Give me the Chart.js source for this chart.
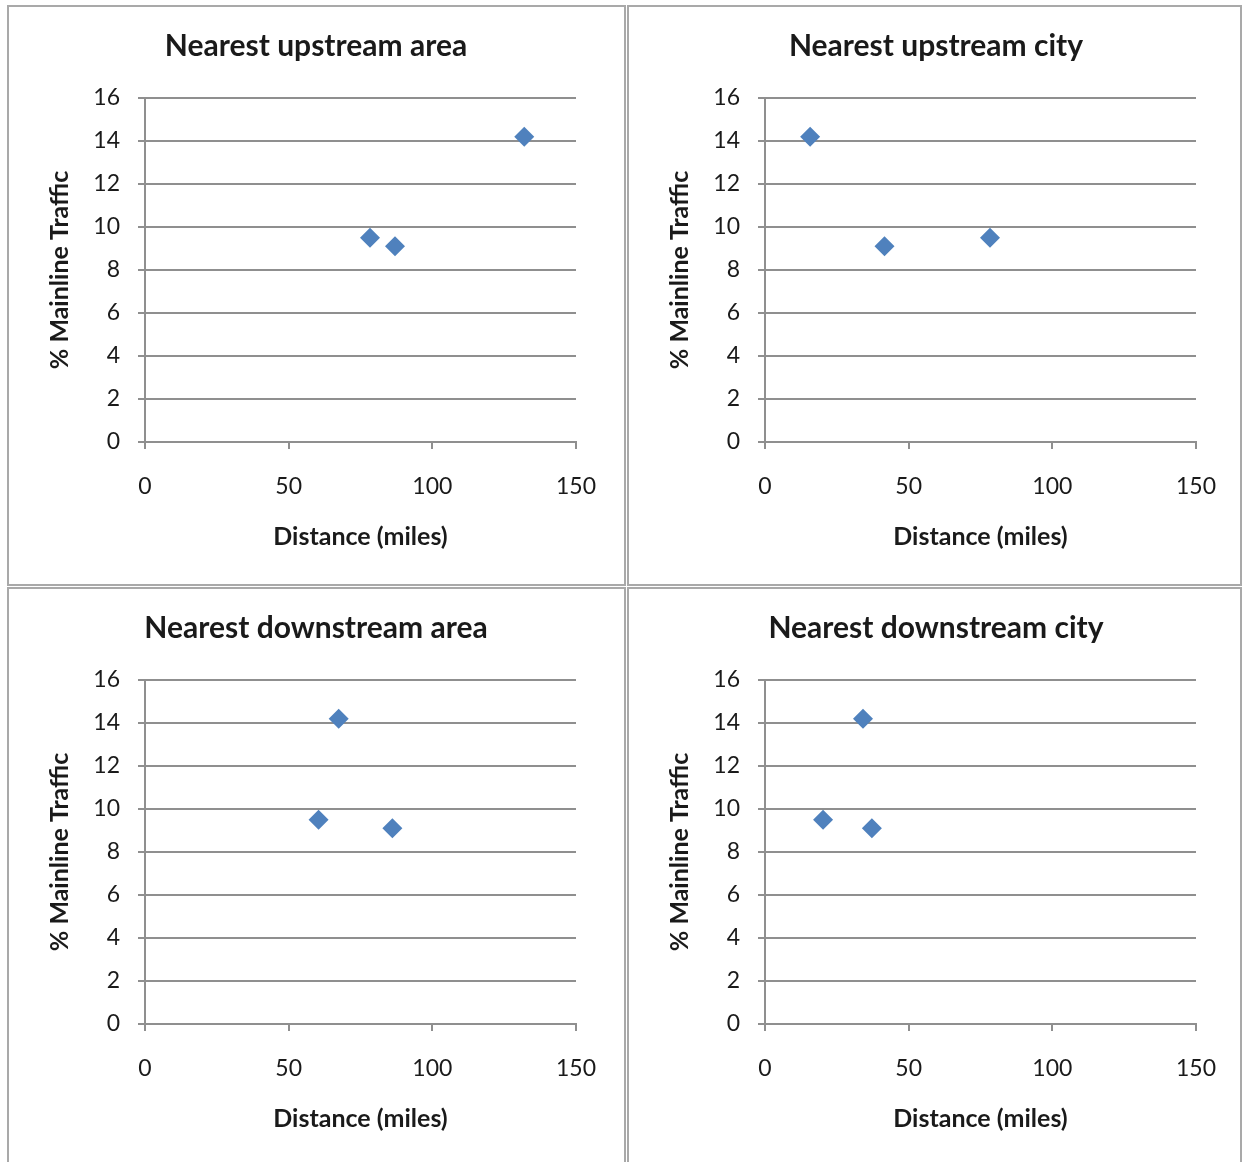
<!DOCTYPE html>
<html>
<head>
<meta charset="utf-8">
<script src="https://cdn.jsdelivr.net/npm/chart.js@4.4.1/dist/chart.umd.min.js"></script>
<style>
  body { margin: 0; background: #fff; width: 1243px; height: 1162px; overflow: hidden; position: relative; }
  .panel { position: absolute; box-sizing: border-box; border: 2px solid #a9a9a9; background: #fff; }
  .panel canvas { position: absolute; left: 0; top: 0; }
</style>
</head>
<body>
<div class="panel" style="left:7px; top:5px; width:619px; height:581px;"><canvas id="c1"></canvas></div>
<div class="panel" style="left:627px; top:5px; width:615px; height:581px;"><canvas id="c2"></canvas></div>
<div class="panel" style="left:7px; top:587px; width:619px; height:590px;"><canvas id="c3"></canvas></div>
<div class="panel" style="left:627px; top:587px; width:615px; height:590px;"><canvas id="c4"></canvas></div>
<script>
// chart titles
const panelTitles = ['Nearest upstream area', 'Nearest upstream city', 'Nearest downstream area', 'Nearest downstream city'];
const xTitle = 'Distance (miles)';
const yTitle = '% Mainline Traffic';

// distance (miles) per panel, same three sites in each
const upAreaDist = [78.3, 87.0, 132.0];
const upAreaPct = [9.5, 9.1, 14.2];
const upCityDist = [78.3, 41.6, 15.7];
const upCityPct = [9.5, 9.1, 14.2];
const downAreaDist = [60.4, 86.1, 67.4];
const downAreaPct = [9.5, 9.1, 14.2];
const downCityDist = [20.2, 37.2, 34.1];
const downCityPct = [9.5, 9.1, 14.2];

// axis ranges / tick steps
const xRange = [0, 150];
const xStep = 50;
const yRange = [0, 16];
const yStep = 2;

const gridColor = '#8f8f8f';
const textColor = '#1a1a1a';
const markerColor = '#4f81bd';
const font = 'Lato, "Open Sans", sans-serif';

function toPoints(xs, ys) {
  return xs.map((x, i) => ({ x: x, y: ys[i] }));
}

function makeChart(id, title, xs, ys) {
  const canvas = document.getElementById(id);
  canvas.width = 614;
  canvas.height = 577;
  canvas.style.width = '614px';
  canvas.style.height = '577px';

  return new Chart(canvas.getContext('2d'), {
    type: 'scatter',
    data: {
      datasets: [{
        data: toPoints(xs, ys),
        pointStyle: 'rectRot',
        pointRadius: 10,
        backgroundColor: markerColor,
        borderColor: markerColor,
        borderWidth: 0
      }]
    },
    options: {
      responsive: false,
      animation: false,
      // equal side padding keeps the title centred on the panel
      layout: { padding: { left: 47, right: 47, top: 0, bottom: 0 } },
      plugins: {
        legend: { display: false },
        tooltip: { enabled: false },
        title: {
          display: true,
          text: title,
          color: textColor,
          font: { family: font, size: 30, weight: 'bold', lineHeight: 1.2 },
          padding: { top: 21, bottom: 34 }
        }
      },
      scales: {
        x: {
          type: 'linear',
          min: xRange[0],
          max: xRange[1],
          afterFit: (scale) => { scale.height = 142; },
          ticks: {
            stepSize: xStep,
            color: textColor,
            padding: 24,
            font: { family: font, size: 23 }
          },
          grid: {
            drawOnChartArea: false,
            drawTicks: true,
            tickLength: 7,
            color: gridColor,
            lineWidth: 2
          },
          border: { display: true, color: gridColor, width: 2 },
          title: {
            display: true,
            text: xTitle,
            color: textColor,
            font: { family: font, size: 25, weight: 'bold', lineHeight: 1.2 },
            padding: { top: 0, bottom: 32 }
          }
        },
        y: {
          type: 'linear',
          min: yRange[0],
          max: yRange[1],
          afterFit: (scale) => { scale.width = 89; },
          ticks: {
            stepSize: yStep,
            color: textColor,
            padding: 18,
            font: { family: font, size: 23 }
          },
          grid: {
            drawOnChartArea: true,
            drawTicks: true,
            tickLength: 7,
            color: gridColor,
            lineWidth: 2
          },
          border: { display: true, color: gridColor, width: 2 },
          title: {
            display: true,
            text: yTitle,
            color: textColor,
            font: { family: font, size: 25, weight: 'bold', lineHeight: 1.2 },
            padding: { top: -11, bottom: 0 }
          }
        }
      }
    }
  });
}

makeChart('c1', panelTitles[0], upAreaDist, upAreaPct);
makeChart('c2', panelTitles[1], upCityDist, upCityPct);
makeChart('c3', panelTitles[2], downAreaDist, downAreaPct);
makeChart('c4', panelTitles[3], downCityDist, downCityPct);
</script>
</body>
</html>
